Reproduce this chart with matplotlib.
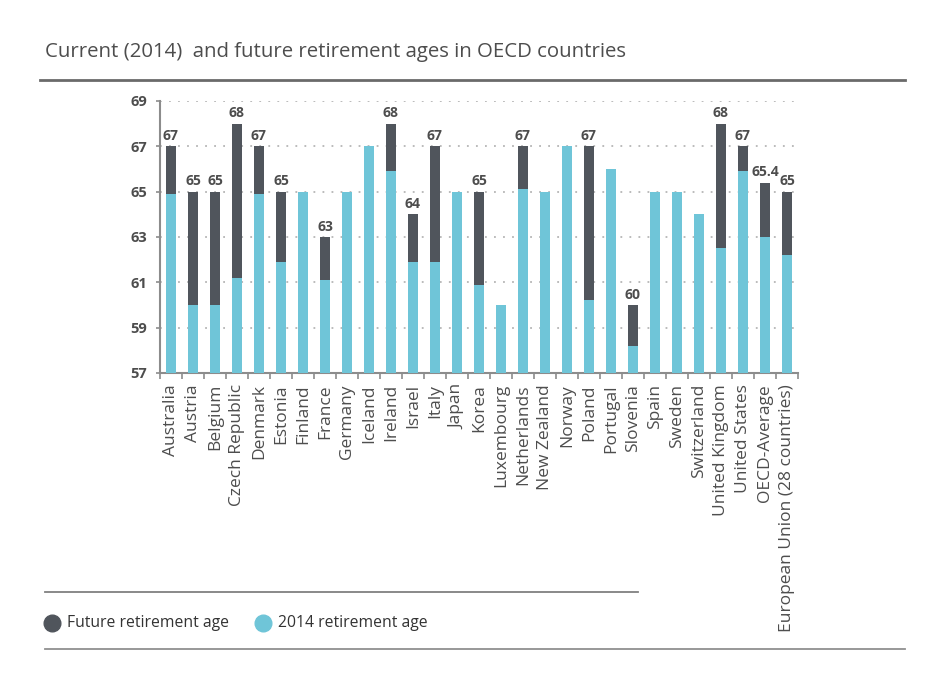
import numpy as np
import matplotlib
matplotlib.use("Agg")
import matplotlib.pyplot as plt
from matplotlib.lines import Line2D

plt.rcParams['font.family'] = ['Open Sans', 'DejaVu Sans']

countries = ["Australia", "Austria", "Belgium", "Czech Republic", "Denmark", "Estonia",
             "Finland", "France", "Germany", "Iceland", "Ireland", "Israel", "Italy",
             "Japan", "Korea", "Luxembourg", "Netherlands", "New Zealand", "Norway",
             "Poland", "Portugal", "Slovenia", "Spain", "Sweden", "Switzerland",
             "United Kingdom", "United States", "OECD-Average", "European Union (28 countries)"]

age_2014 = [64.9, 60, 60, 61.2, 64.9, 61.9, 65, 61.1, 65, 67, 65.9, 61.9, 61.9,
            65, 60.9, 60, 65.1, 65, 67, 60.2, 66.0, 58.2, 65, 65, 64.0,
            62.5, 65.9, 63.0, 62.2]

age_future = [67, 65, 65, 68, 67, 65, np.nan, 63, np.nan, np.nan, 68, 64, 67,
              np.nan, 65, np.nan, 67, np.nan, np.nan, 67, np.nan, 60, np.nan, np.nan, np.nan,
              68, 67, 65.4, 65]

y_base = 57
y_ticks = [57, 59, 61, 63, 65, 67, 69]

DARK = "#50555c"
LIGHT = "#6fc5d8"
TEXT = "#4d4d4d"
AXIS = "#8c8c8c"

fig = plt.figure(figsize=(9.36, 6.87), dpi=100)
ax = fig.add_axes([0.1709, 0.4571, 0.6816, 0.3959])

x = np.arange(len(countries))
cur = np.array(age_2014, dtype=float)
fut = np.array(age_future, dtype=float)
width = 0.43

ax.bar(x, cur - y_base, bottom=y_base, width=width, color=LIGHT, zorder=3)
has_fut = ~np.isnan(fut)
ax.bar(x[has_fut], fut[has_fut] - cur[has_fut], bottom=cur[has_fut], width=width,
       color=DARK, zorder=3)

for xi, v in zip(x[has_fut], fut[has_fut]):
    label = f"{v:g}"
    ax.text(xi, v + 0.15, label, ha="center", va="bottom", fontsize=10,
            fontweight="bold", color=TEXT, zorder=4)

ax.set_ylim(57, 69)
ax.set_xlim(-0.5, len(countries) - 0.5)
ax.set_yticks(y_ticks)
ax.set_yticklabels([str(t) for t in y_ticks], fontsize=10.5, fontweight="bold", color=TEXT)
for t in y_ticks[1:]:
    ax.axhline(t, color="#b5b5b5", lw=1.3, linestyle=(0, (1, 4)), zorder=1)

ax.set_xticks(x)
ax.set_xticklabels(countries, rotation=90, fontsize=12.5, color=TEXT)
ax.set_xticks(np.arange(-0.5, len(countries)), minor=True)
ax.tick_params(axis="x", which="major", length=0, pad=8)
ax.tick_params(axis="x", which="minor", length=4, width=1.2, color=AXIS, direction="out")
ax.tick_params(axis="y", length=3, width=1.2, color=AXIS, pad=6)

for side in ("top", "right"):
    ax.spines[side].set_visible(False)
for side in ("left", "bottom"):
    ax.spines[side].set_color(AXIS)
    ax.spines[side].set_linewidth(1.5)

W, H = 936, 687
def fx(px):
    return px / W
def fy(py):
    return 1 - py / H

fig.text(fx(45), fy(52), "Current (2014)  and future retirement ages in OECD countries",
         fontsize=14.7, color=TEXT, ha="left", va="center")
fig.add_artist(Line2D([fx(40), fx(905)], [fy(80), fy(80)], color="#6a6a6a", lw=2))

fig.add_artist(Line2D([fx(45), fx(638)], [fy(592), fy(592)], color="#808080", lw=1.3))
fig.add_artist(Line2D([fx(45), fx(905)], [fy(649), fy(649)], color="#909090", lw=1.3))

for cx, color, label in [(52, DARK, "Future retirement age"), (263, LIGHT, "2014 retirement age")]:
    fig.add_artist(Line2D([fx(cx)], [fy(623)], marker="o", markersize=12,
                          color=color, linestyle="none"))
    fig.text(fx(cx + 15), fy(623), label, fontsize=11.3, color="#333333",
             ha="left", va="center")

fig.savefig("out.png", dpi=100, facecolor="white")
